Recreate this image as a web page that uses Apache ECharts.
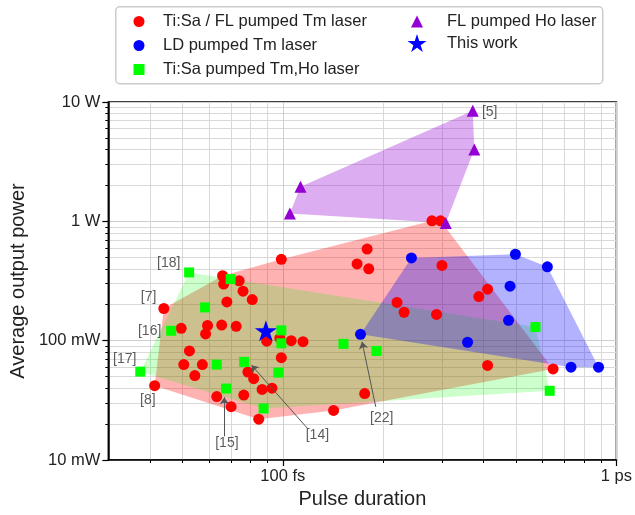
<!DOCTYPE html>
<html>
<head>
<meta charset="utf-8">
<script src="https://cdn.jsdelivr.net/npm/echarts@6/dist/echarts.min.js"></script>
<style>
html, body { margin: 0; padding: 0; background: #fff; }
#chart { width: 635px; height: 515px; }
</style>
</head>
<body>
<div id="chart"></div>
<script>
// [pulse duration (fs), average power (mW)]
var tmTiSaFl = [
	[99, 480], [66, 350], [74, 317], [66.5, 298], [76, 260], [81, 221], [68, 211], [44, 186],
	[49.6, 127], [59.5, 134], [58.7, 114], [65.6, 135], [72.5, 132], [52.5, 82], [89.5, 99],
	[98, 105], [106, 100], [115, 98], [99, 72], [50.5, 63], [57.4, 63], [54.5, 51], [41.3, 42],
	[78.6, 54.5], [81.8, 48], [86.7, 39], [92.8, 40], [76.4, 35], [63.4, 34], [70, 28], [84.7, 22],
	[142, 26], [280, 1010], [297, 1010], [179, 585], [167, 440], [181, 400], [300, 427],
	[411, 270], [387, 234], [220, 209], [231, 173], [289, 166], [176, 36], [411, 62], [646, 58]
];
var tmLd = [
	[171, 113], [243, 494], [358, 97], [475, 148], [480, 286], [498, 530], [621, 416], [731, 60], [884, 60]
];
var tmHoTiSa = [
	[37.4, 55], [46.3, 121], [52.4, 373], [58.5, 190], [69.8, 328], [63.4, 63], [76.6, 66.4], [67.6, 39.7],
	[87.6, 27], [97, 54], [99, 122], [99, 95], [152, 94], [191, 82], [572, 130], [631, 38]
];
var hoFl = [[371, 8440], [375, 4000], [113, 1950], [105, 1165], [308, 970]];
var thisWork = [[89, 121]];

// reference tags and arrows
var refLabels = ['[5]', '[7]', '[18]', '[16]', '[17]', '[8]', '[15]', '[14]', '[22]'];
var refPos = [[417, 8300], [39.6, 232], [45.5, 446], [39.9, 121], [33.6, 70], [39.4, 31.7], [68, 13.8], [127, 16.1], [198, 22.4]];
var arrowFrom = [[66.8, 15.8], [118.4, 18.5], [190, 27.9]];
var arrowTo = [[66.8, 33.6], [80.6, 62.3], [172.8, 97.7]];

var xMajor = [100, 1000];
var xMinor = [40, 50, 60, 70, 80, 90, 200, 300, 400, 500, 600, 700, 800, 900];
var yMajor = [10, 100, 1000, 10000];
var yMinor = [20, 30, 40, 50, 60, 70, 80, 90, 200, 300, 400, 500, 600, 700, 800, 900,
	2000, 3000, 4000, 5000, 6000, 7000, 8000, 9000];

var FONT = '"Liberation Sans", Arial, sans-serif';
var STAR = 'path://M0,-10L2.245,-3.09L9.51,-3.09L3.633,1.18L5.878,8.09L0,3.82L-5.878,8.09L-3.633,1.18L-9.51,-3.09L-2.245,-3.09Z';

// convex hull in log-log space
function hull(pts) {
	var p = pts.map(function (d) { return [Math.log10(d[0]), Math.log10(d[1]), d]; });
	p.sort(function (a, b) { return a[0] - b[0] || a[1] - b[1]; });
	function cross(o, a, b) { return (a[0] - o[0]) * (b[1] - o[1]) - (a[1] - o[1]) * (b[0] - o[0]); }
	var lower = [], upper = [], i;
	for (i = 0; i < p.length; i++) {
		while (lower.length >= 2 && cross(lower[lower.length - 2], lower[lower.length - 1], p[i]) <= 0) lower.pop();
		lower.push(p[i]);
	}
	for (i = p.length - 1; i >= 0; i--) {
		while (upper.length >= 2 && cross(upper[upper.length - 2], upper[upper.length - 1], p[i]) <= 0) upper.pop();
		upper.push(p[i]);
	}
	lower.pop(); upper.pop();
	return lower.concat(upper).map(function (q) { return q[2]; });
}

function hullSeries(pts, color) {
	var h = hull(pts);
	return {
		type: 'custom',
		silent: true,
		z: 1,
		data: [h[0]],
		renderItem: function (params, api) {
			return {
				type: 'polygon',
				shape: { points: h.map(function (d) { return api.coord(d); }) },
				style: { fill: color }
			};
		}
	};
}

function logAxis(min, max, major, minor, fmt, extra) {
	var main = {
		type: 'log', min: min, max: max,
		axisLine: { show: true, lineStyle: { color: '#000', width: 1.5 } },
		axisTick: { show: true, customValues: major, length: 6, lineStyle: { color: '#000', width: 1.2 } },
		axisLabel: { customValues: major, formatter: fmt, color: '#222', fontSize: 16.5, fontFamily: FONT },
		splitLine: { show: true, lineStyle: { color: '#cfcfcf', width: 1 } },
		nameTextStyle: { color: '#222', fontSize: 20, fontFamily: FONT }
	};
	for (var k in extra) main[k] = extra[k];
	var sub = {
		type: 'log', min: min, max: max, position: extra.position,
		axisLine: { show: false },
		axisTick: { show: true, customValues: minor, length: 3, lineStyle: { color: '#000', width: 1 } },
		axisLabel: { show: false },
		splitLine: { show: true, lineStyle: { color: '#d9d9d9', width: 1 } }
	};
	return [main, sub];
}

function legendText(pad) {
	return { color: '#222', fontSize: 16.5, fontFamily: FONT, lineHeight: 16, padding: [0, 0, 0, pad] };
}

var chart = echarts.init(document.getElementById('chart'));

var xLabels = { 100: '100 fs', 1000: '1 ps' };
var yLabels = { 10: '10 mW', 100: '100 mW', 1000: '1 W', 10000: '10 W' };

var option = {
	animation: false,
	backgroundColor: '#fff',
	grid: { left: 107, right: 15, top: 102, bottom: 55, show: true, borderColor: '#000', borderWidth: 1.5 },
	xAxis: logAxis(30, 1000, xMajor, xMinor, function (v) { return xLabels[Math.round(v)] || ''; },
		{ position: 'bottom', name: 'Pulse duration', nameLocation: 'middle', nameGap: 26 }),
	yAxis: logAxis(10, 10000, yMajor, yMinor, function (v) { return yLabels[Math.round(v)] || ''; },
		{ position: 'left', name: 'Average output power', nameLocation: 'middle', nameGap: 79 }),
	legend: [{
		left: 133.5, top: 13, padding: 0, orient: 'vertical', itemGap: 7,
		itemWidth: 11, itemHeight: 11,
		textStyle: legendText(13.5),
		data: ['Ti:Sa / FL pumped Tm laser', 'LD pumped Tm laser', 'Ti:Sa pumped Tm,Ho laser']
	}, {
		left: 411, top: 13, padding: 0, orient: 'vertical',
		itemWidth: 12, itemHeight: 12,
		textStyle: legendText(19),
		data: ['FL pumped Ho laser']
	}, {
		left: 407.5, top: 34, padding: 0, orient: 'vertical',
		itemWidth: 19, itemHeight: 19,
		textStyle: legendText(15.5),
		data: ['This work']
	}],
	graphic: [{
		type: 'rect', left: 115, top: 6, z: -1,
		shape: { width: 487, height: 77, r: 4 },
		style: { fill: '#fff', stroke: '#cccccc', lineWidth: 1.5 }
	}],
	series: [
		hullSeries(tmTiSaFl, 'rgba(255,0,0,0.3)'),
		hullSeries(tmHoTiSa, 'rgba(0,255,0,0.2)'),
		hullSeries(tmLd, 'rgba(0,0,255,0.3)'),
		hullSeries(hoFl, 'rgba(148,0,211,0.32)'),
		{
			name: 'Ti:Sa / FL pumped Tm laser', type: 'scatter', symbol: 'circle', symbolSize: 11,
			itemStyle: { color: '#ff0000', opacity: 1 }, data: tmTiSaFl
		},
		{
			name: 'LD pumped Tm laser', type: 'scatter', symbol: 'circle', symbolSize: 11,
			itemStyle: { color: '#0000ff', opacity: 1 }, data: tmLd
		},
		{
			name: 'Ti:Sa pumped Tm,Ho laser', type: 'scatter', symbol: 'rect', symbolSize: 10,
			itemStyle: { color: '#00ff00', opacity: 1 }, data: tmHoTiSa
		},
		{
			name: 'FL pumped Ho laser', type: 'scatter', symbol: 'triangle', symbolSize: 12,
			itemStyle: { color: '#9400d3', opacity: 1 }, data: hoFl
		},
		{
			name: 'This work', type: 'scatter', symbol: STAR, symbolSize: 22, symbolKeepAspect: true,
			itemStyle: { color: '#0000ff', opacity: 1 }, data: thisWork, z: 4
		},
		{
			type: 'scatter', silent: true, symbolSize: 1, z: 5,
			itemStyle: { color: 'rgba(0,0,0,0)' },
			data: refLabels.map(function (t, i) { return { value: refPos[i], name: t }; }),
			label: { show: true, position: 'inside', formatter: '{b}', color: '#333', fontSize: 14, fontFamily: FONT },
			markLine: {
				silent: true, animation: false,
				symbol: ['none', 'arrow'], symbolSize: 7,
				lineStyle: { color: '#555', width: 1, type: 'solid' },
				label: { show: false },
				data: arrowFrom.map(function (a, i) { return [{ coord: a }, { coord: arrowTo[i] }]; })
			}
		}
	]
};
chart.setOption(option);
</script>
</body>
</html>
